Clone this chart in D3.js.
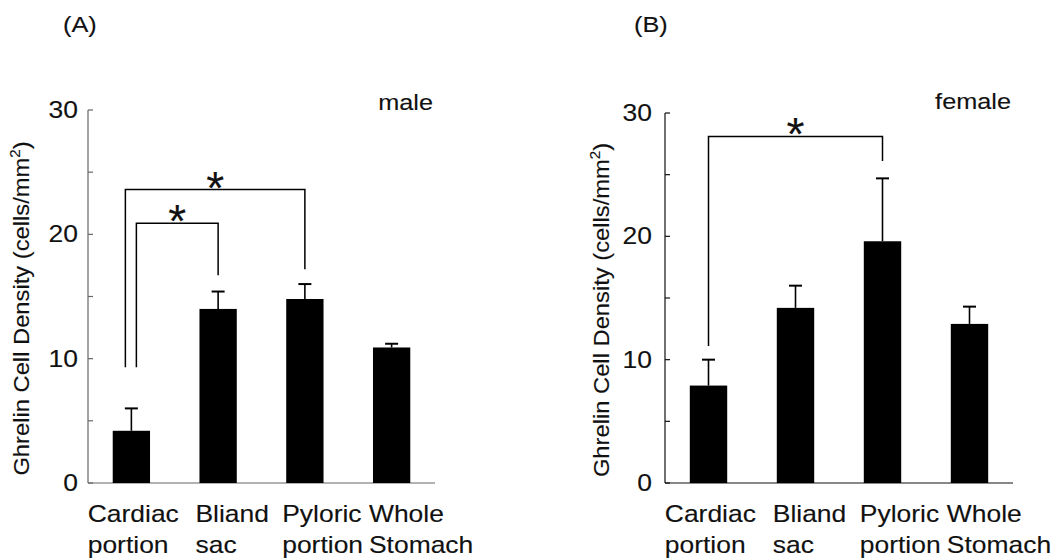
<!DOCTYPE html>
<html>
<head>
<meta charset="utf-8">
<script src="https://cdn.jsdelivr.net/npm/d3@7"></script>
<style>
  body { margin: 0; background: #fff; }
  text { font-family: "Liberation Sans", Arial, sans-serif; fill: #111; stroke: #111; stroke-width: 0.12; }
</style>
</head>
<body>
<svg id="chart" width="1061" height="560"></svg>
<script>
// values (cells/mm2, mean and upper error)
const categories = [["Cardiac", "portion"], ["Bliand", "sac"], ["Pyloric", "portion"], ["Whole", "Stomach"]];
const maleMean = [4.2, 14.0, 14.8, 10.9];
const maleSE = [1.8, 1.4, 1.2, 0.3];
const femaleMean = [7.9, 14.2, 19.6, 12.9];
const femaleSE = [2.1, 1.8, 5.1, 1.4];
const yLabels = [0, 10, 20, 30];
const yMinor = [0, 5, 10, 15, 20, 25, 30];
// significance brackets: bars joined, bracket level, foot of each leg
const maleSig = [{a: 0, b: 1, level: 20.9, footA: 9.3, footB: 16.7},
                 {a: 0, b: 2, level: 23.6, footA: 9.3, footB: 17.2}];
const femaleSig = [{a: 0, b: 2, level: 28.1, footA: 11.1, footB: 26.1}];

const svg = d3.select("#chart");
const SX = 1.15; // the figure's lettering is a bit wider than Arial

function wideText(g, x, y, str, fs, anchor) {
  return g.append("text")
    .attr("transform", `translate(${x},${y}) scale(${SX},1)`)
    .attr("font-size", fs)
    .attr("text-anchor", anchor || "start")
    .text(str);
}

function drawPanel(opt) {
  const g = svg.append("g");
  const x = d3.scaleBand().domain(d3.range(categories.length))
    .range([opt.x0, opt.x1]).paddingInner(0.57).paddingOuter(0.285);
  const y = d3.scaleLinear().domain([0, 30]).range([opt.y0, opt.y1]);
  const cx = i => x(i) + x.bandwidth() / 2;

  // axes
  g.append("line").attr("x1", opt.x0).attr("x2", opt.x0)
    .attr("y1", y(0)).attr("y2", y(30)).attr("stroke", opt.axisColor).attr("stroke-width", 1.2);
  g.append("line").attr("x1", opt.x0).attr("x2", opt.x1)
    .attr("y1", y(0)).attr("y2", y(0)).attr("stroke", opt.axisColor).attr("stroke-width", 1.2);
  g.selectAll(".tick").data(yMinor).join("line")
    .attr("x1", opt.x0).attr("x2", opt.x0 + 5)
    .attr("y1", d => y(d)).attr("y2", d => y(d))
    .attr("stroke", opt.axisColor).attr("stroke-width", 1.2);
  yLabels.forEach(v => {
    wideText(g, opt.x0 - opt.labelGap, y(v) + 8, String(v), 23, "end");
  });

  // y title
  const t = g.append("text")
    .attr("transform", `translate(${opt.titleX},${(y(0) + y(30)) / 2 + 12}) rotate(-90) scale(1.08,1)`)
    .attr("font-size", 22).attr("text-anchor", "middle");
  t.append("tspan").text("Ghrelin Cell Density (cells/mm");
  t.append("tspan").attr("font-size", 14).attr("dy", -9).text("2");
  t.append("tspan").attr("dy", 9).text(")");

  // bars
  g.selectAll(".bar").data(opt.mean).join("rect")
    .attr("x", (d, i) => x(i)).attr("width", x.bandwidth())
    .attr("y", d => y(d)).attr("height", d => y(0) - y(d))
    .attr("fill", "#000");

  // error bars (upper only)
  opt.mean.forEach((m, i) => {
    const top = y(m + opt.se[i]);
    g.append("line").attr("x1", cx(i)).attr("x2", cx(i))
      .attr("y1", y(m)).attr("y2", top).attr("stroke", "#000").attr("stroke-width", 1.6);
    g.append("line").attr("x1", cx(i) - 6.5).attr("x2", cx(i) + 6.5)
      .attr("y1", top).attr("y2", top).attr("stroke", "#000").attr("stroke-width", 2);
  });

  // category labels
  categories.forEach((c, i) => {
    const lx = x(i) - (i === 0 ? 25 : 4);
    wideText(g, lx, opt.catY, c[0], 23);
    wideText(g, lx, opt.catY + 31, c[1], 23);
  });

  // significance brackets
  opt.sig.forEach((s, k) => {
    const off = opt.sig.length > 1 ? (k === 0 ? 5 : -6) : 0;
    const xa = cx(s.a) + off, xb = cx(s.b);
    g.append("path")
      .attr("d", d3.line()([[xa, y(s.footA)], [xa, y(s.level)], [xb, y(s.level)], [xb, y(s.footB)]]))
      .attr("fill", "none").attr("stroke", "#000").attr("stroke-width", 1.5);
    g.append("text").attr("x", (xa + xb) / 2).attr("y", y(s.level) + 14)
      .attr("font-size", 46).attr("text-anchor", "middle").attr("stroke-width", 0).text("*");
  });

  wideText(g, opt.x1 - 2, opt.sexY, opt.sex, 22, "end");
  wideText(g, opt.panelX, 32, opt.panel, 22);
}

drawPanel({x0: 88, x1: 435, y0: 483, y1: 110, axisColor: "#666", labelGap: 10, titleX: 29,
           mean: maleMean, se: maleSE, sig: maleSig, catY: 522, sex: "male", sexY: 110,
           panel: "(A)", panelX: 63});
drawPanel({x0: 665, x1: 1013, y0: 483, y1: 113, axisColor: "#111", labelGap: 13, titleX: 609,
           mean: femaleMean, se: femaleSE, sig: femaleSig, catY: 522, sex: "female", sexY: 109,
           panel: "(B)", panelX: 634});
</script>
</body>
</html>
